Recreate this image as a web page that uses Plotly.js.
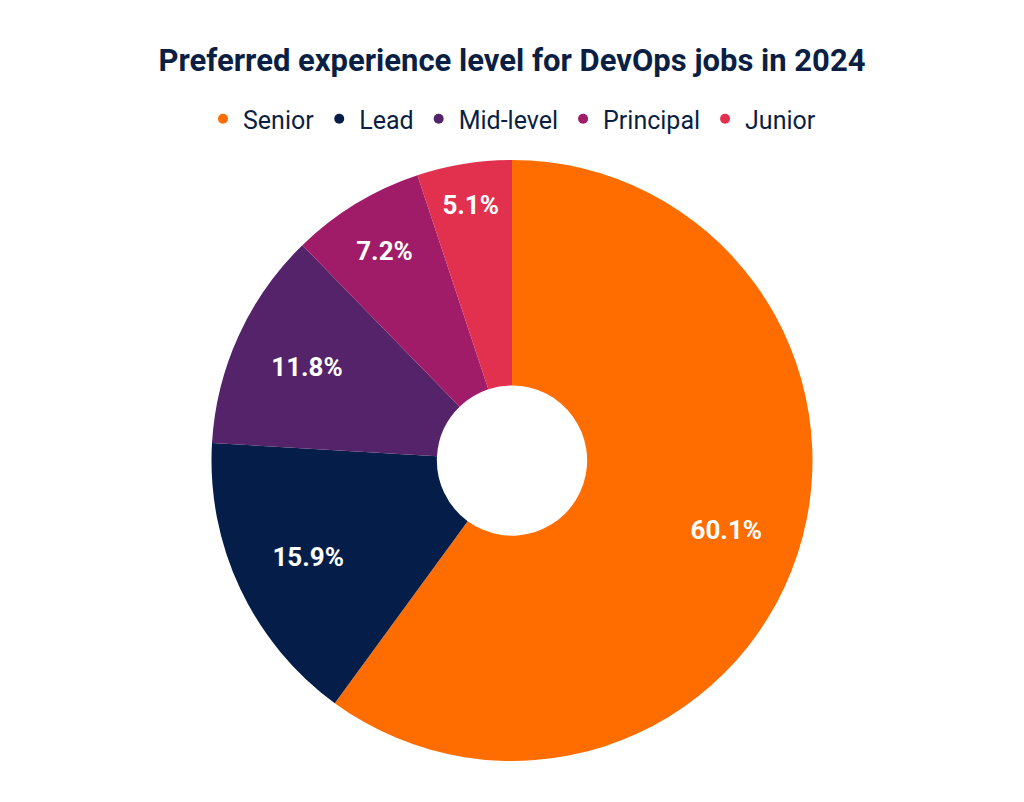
<!DOCTYPE html>
<html>
<head>
<meta charset="utf-8">
<script src="https://cdn.plot.ly/plotly-3.0.1.min.js"></script>
<style>html,body{margin:0;padding:0;background:#fff;}#chart{width:1024px;height:802px;}</style>
</head>
<body>
<div id="chart"></div>
<script>
const categories = ["Senior", "Lead", "Mid-level", "Principal", "Junior"];
const shares = [60.1, 15.9, 11.8, 7.2, 5.1];
const colors = ["#FF6D00", "#041E49", "#54236A", "#A01B68", "#E1314F"];

// Visible donut slices
const pieTrace = {
  type: "pie",
  labels: categories,
  values: shares,
  sort: false,
  direction: "clockwise",
  rotation: 0,
  hole: 0.25,
  marker: { colors: colors, line: { width: 0 } },
  textinfo: "none",
  showlegend: false,
  hoverinfo: "label+value"
};

// Transparent outer ring carrying the percentage labels (places them further out)
const labelTrace = {
  type: "pie",
  labels: categories,
  values: shares,
  sort: false,
  direction: "clockwise",
  rotation: 0,
  hole: 0.5,
  marker: { colors: categories.map(() => "rgba(0,0,0,0)"), line: { width: 0 } },
  texttemplate: "%{value:.1f}%",
  textposition: "inside",
  insidetextorientation: "horizontal",
  textfont: { family: "Roboto", size: 26, color: "#ffffff", weight: 700 },
  showlegend: false,
  hoverinfo: "skip"
};

const legendTraces = categories.map((c, i) => ({
  type: "scatter",
  mode: "markers",
  x: [null], y: [null],
  name: c,
  marker: { color: colors[i], size: 10, symbol: "circle" },
  showlegend: true,
  hoverinfo: "skip"
}));

const layout = {
  width: 1024, height: 802,
  paper_bgcolor: "#ffffff", plot_bgcolor: "#ffffff",
  margin: { l: 0, r: 0, t: 160, b: 41 },
  title: {
    text: "<b>Preferred experience level for DevOps jobs in 2024</b>",
    font: { family: "Roboto", size: 31, color: "#0B1F44" },
    x: 0.5, xanchor: "center", y: 1 - 60 / 802, yanchor: "middle"
  },
  showlegend: true,
  legend: {
    orientation: "h", x: 0.5, xanchor: "center",
    y: 1 - 119 / 802, yref: "container", yanchor: "middle",
    font: { family: "Roboto", size: 25, color: "#0B1F44" },
    itemwidth: 30, tracegroupgap: 0
  },
  xaxis: { visible: false },
  yaxis: { visible: false }
};

Plotly.newPlot("chart", [pieTrace, labelTrace, ...legendTraces], layout, { displayModeBar: false, staticPlot: true });
</script>
</body>
</html>
